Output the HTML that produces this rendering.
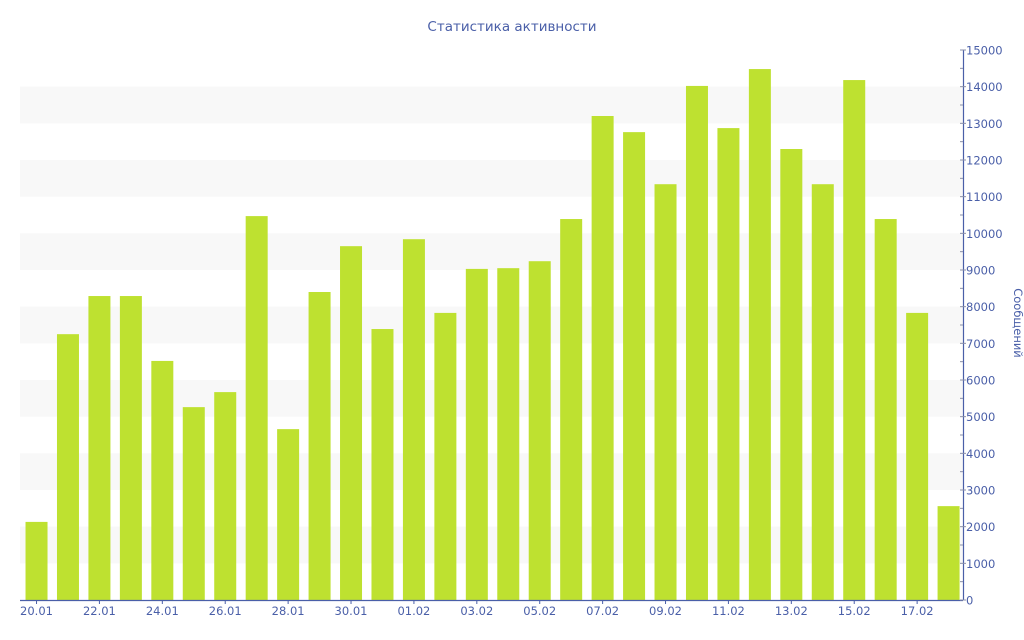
<!DOCTYPE html>
<html><head><meta charset="utf-8"><style>
html,body{margin:0;padding:0;background:#fff;}
svg{display:block;font-family:"DejaVu Sans","Liberation Sans",sans-serif;}
</style></head><body>
<svg id="c" width="1024" height="640" xmlns="http://www.w3.org/2000/svg"></svg>
<script>
var s='';
var vals=[2130,7250,8290,8290,6520,5260,5670,10470,4660,8400,9650,7390,9840,7830,9030,9050,9240,10390,13200,12760,11340,14020,12870,14480,12300,11340,14180,10390,7830,2560];
var labels=['20.01','22.01','24.01','26.01','28.01','30.01','01.02','03.02','05.02','07.02','09.02','11.02','13.02','15.02','17.02'];
var y0=600,k=550/15000,x0=20.8,slot=31.45,bw=22;
function Y(v){return y0-v*k;}
for(var b=1;b<15;b+=2){s+='<rect x="20" y="'+Y(b*1000+1000)+'" width="943" height="'+(1000*k)+'" fill="#f8f8f8"/>';}
vals.forEach(function(v,i){var cx=x0+slot*(i+0.5);s+='<rect x="'+(cx-bw/2)+'" y="'+Y(v)+'" width="'+bw+'" height="'+(v*k)+'" fill="#bee130"/>';});
s+='<line x1="20" y1="600.5" x2="963" y2="600.5" stroke="#4a5fa8" stroke-width="1.2"/>';
s+='<line x1="963.5" y1="50" x2="963.5" y2="600" stroke="#4a5fa8" stroke-width="1.2"/>';
for(var v=0;v<=15000;v+=500){var y=Y(v);s+='<line x1="960" y1="'+y+'" x2="'+(v%1000?963:966)+'" y2="'+y+'" stroke="#8a8fa8" stroke-width="1"/>';
if(v%1000==0)s+='<text x="966" y="'+(y+4.5)+'" font-size="11.5" fill="#4a5fa8">'+v+'</text>';}
labels.forEach(function(l,j){var cx=x0+slot*(2*j+0.5);s+='<line x1="'+cx+'" y1="600" x2="'+cx+'" y2="604" stroke="#4a5fa8"/><text x="'+cx+'" y="615" font-size="11.5" fill="#4a5fa8" text-anchor="middle">'+l+'</text>';});
s+='<text x="512" y="31" font-size="13.5" fill="#4a5fa8" text-anchor="middle">Статистика активности</text>';
s+='<text transform="translate(1014,323) rotate(90)" font-size="11.5" fill="#4a5fa8" text-anchor="middle">Сообщений</text>';
document.getElementById('c').innerHTML=s;
</script>
</body></html>
